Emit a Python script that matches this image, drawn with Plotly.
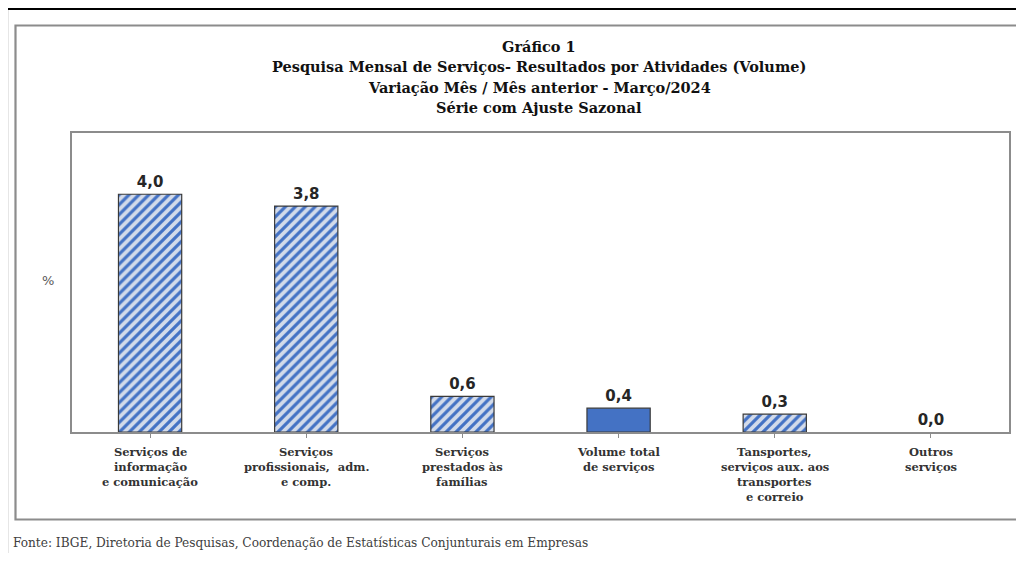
import plotly.graph_objects as go

# ---- data ----
categories = [
    "Serviços de<br>informação<br>e comunicação",
    "Serviços<br>profissionais,  adm.<br>e comp.",
    "Serviços<br>prestados às<br>famílias",
    "Volume total<br>de serviços",
    "Tansportes,<br>serviços aux. aos<br>transportes<br>e correio",
    "Outros<br>serviços",
]
values = [4.0, 3.8, 0.6, 0.4, 0.3, 0.0]
is_total = [False, False, False, True, False, False]
title_lines = [
    "Gráfico 1",
    "Pesquisa Mensal de Serviços- Resultados por Atividades (Volume)",
    "Variação Mês / Mês anterior - Março/2024",
    "Série com Ajuste Sazonal",
]
source_text = "Fonte: IBGE, Diretoria de Pesquisas, Coordenação de Estatísticas Conjunturais em Empresas"
y_unit = "%"

# page has an 8px body margin: figure sized to fit the window exactly
OFF = 8
W, H = 1024 - 2 * OFF, 561 - 2 * OFF
PX0, PX1, PY0, PY1 = 72, 1009, 133, 432  # plot box in page pixels

def px(x):
    return (x - OFF) / W

def py(y):
    return 1 - (y - OFF) / H

BLUE = "#4472C4"
LIGHT = "#D3DBEA"

xs = list(range(len(categories)))
hx = [x for x, t in zip(xs, is_total) if not t]
hy = [v for v, t in zip(values, is_total) if not t]
tx = [x for x, t in zip(xs, is_total) if t]
ty = [v for v, t in zip(values, is_total) if t]

common = dict(
    width=0.405,
    texttemplate="%{y:.1f}",
    textposition="outside",
    textfont=dict(family="DejaVu Sans", size=15, color="#262626", weight="bold"),
    cliponaxis=False,
    hoverinfo="skip",
)

fig = go.Figure()
fig.add_trace(go.Bar(
    x=hx, y=hy,
    marker=dict(
        color=LIGHT,
        line=dict(color="#3a3a3a", width=[1.2 if v != 0 else 0 for v in hy]),
        pattern=dict(
            shape="/",
            fgcolor=BLUE,
            bgcolor=LIGHT,
            fgopacity=1,
            fillmode="replace",
            size=7,
            solidity=0.45,
        ),
    ),
    **common,
))
fig.add_trace(go.Bar(
    x=tx, y=ty,
    marker=dict(color=BLUE, line=dict(color="#3a3a3a", width=1.2)),
    **common,
))

annotations = []
# category labels, line by line
for i, cat in enumerate(categories):
    for j, line in enumerate(cat.split("<br>")):
        annotations.append(dict(
            x=i, xref="x", y=py(452 + 15 * j), yref="paper",
            text=line, showarrow=False, xanchor="center", yanchor="middle",
            font=dict(family="DejaVu Serif", size=11.5, color="#333333", weight="bold"),
        ))
# title lines
for j, line in enumerate(title_lines):
    annotations.append(dict(
        x=px(539), xref="paper", y=py(46 + 20.5 * j), yref="paper",
        text=line, showarrow=False, xanchor="center", yanchor="middle",
        font=dict(family="DejaVu Serif", size=14.5, color="#111111", weight="bold"),
    ))
# unit
annotations.append(dict(
    x=px(48), xref="paper", y=py(280), yref="paper", text=y_unit,
    showarrow=False, xanchor="center", yanchor="middle",
    font=dict(family="DejaVu Sans", size=13, color="#595959"),
))
# source
annotations.append(dict(
    x=px(11), xref="paper", y=py(552), yref="paper", text=source_text,
    showarrow=False, xanchor="left", yanchor="bottom",
    font=dict(family="DejaVu Serif Condensed", size=13.5, color="#404040"),
))

shapes = [
    # outer black frame
    dict(type="rect", xref="paper", yref="paper",
         x0=px(7), x1=px(1040), y0=py(580), y1=py(9),
         line=dict(color="#000000", width=2.2), layer="below"),
    # inner gray frame
    dict(type="rect", xref="paper", yref="paper",
         x0=px(15.5), x1=px(1045), y0=py(519.5), y1=py(25.5),
         line=dict(color="#8c8c8c", width=2.2), layer="below"),
]

fig.update_layout(
    width=W, height=H,
    margin=dict(l=0, r=0, t=0, b=0),
    paper_bgcolor="white", plot_bgcolor="white",
    separators=",.",
    showlegend=False,
    barmode="overlay",
    annotations=annotations,
    shapes=shapes,
    xaxis=dict(
        domain=[px(PX0), px(PX1)],
        range=[-0.5, len(categories) - 0.5],
        tickvals=xs, ticktext=[""] * len(xs),
        tickson="boundaries", ticks="outside", ticklen=4,
        tickcolor="#8c8c8c", tickwidth=1.2,
        showline=True, linecolor="#8c8c8c", linewidth=1.6, mirror=True,
        showgrid=False, zeroline=False, fixedrange=True,
    ),
    yaxis=dict(
        domain=[py(PY1), py(PY0)],
        range=[0, 5.03],
        showticklabels=False, ticks="",
        showline=True, linecolor="#8c8c8c", linewidth=1.6, mirror=True,
        showgrid=False, zeroline=False, fixedrange=True,
    ),
)

fig.write_html("out.html", config={"displayModeBar": False})
